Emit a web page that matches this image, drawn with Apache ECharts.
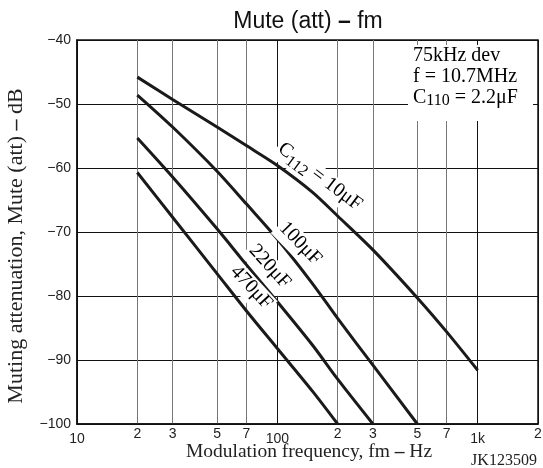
<!DOCTYPE html>
<html><head><meta charset="utf-8">
<script src="https://cdn.jsdelivr.net/npm/echarts@6/dist/echarts.min.js"></script>
<style>html,body{margin:0;padding:0;background:#fff}#c{width:543px;height:468px}</style>
</head><body><div id="c"></div>
<script>
// ---- data ----
const xTicks = [10, 20, 30, 50, 70, 100, 200, 300, 500, 700, 1000, 2000];
const xTickLabels = ['10', '2', '3', '5', '7', '100', '2', '3', '5', '7', '1k', '2'];

const f10 = [20, 30, 50, 70, 100, 150, 200, 300, 500, 700, 1000];
const m10 = [-45.8, -49.3, -53.6, -56.5, -59.6, -63.8, -67.5, -72.8, -80.3, -85.6, -91.6];
const f100 = [20, 30, 50, 70, 100, 150, 200, 300, 500];
const m100 = [-48.6, -53.6, -60.5, -65.6, -71.1, -78.1, -83.5, -90.8, -100];
const f220 = [20, 30, 50, 70, 100, 150, 200, 300];
const m220 = [-55.3, -61.4, -69.5, -75.1, -80.9, -87.7, -93.0, -100];
const f470 = [20, 30, 50, 70, 100, 150, 200];
const m470 = [-60.7, -67.7, -76.5, -82.3, -88.2, -94.9, -100];
const curveNames = ['C112 = 10μF', '100μF', '220μF', '470μF'];

// ---- chart ----
const serif = "'Liberation Serif','Times New Roman',serif";
const sans = "'Liberation Sans',Arial,sans-serif";
const zip = (a, b) => a.map((v, i) => [v, b[i]]);
const curves = [zip(f10, m10), zip(f100, m100), zip(f220, m220), zip(f470, m470)];
const labelMap = {};
xTicks.forEach((t, i) => labelMap[t] = xTickLabels[i]);
const vColors = xTicks.map(t => (t === 100 || t === 1000 || t === 10 || t === 2000) ? '#111' : '#777');

const chart = echarts.init(document.getElementById('c'), null, {renderer: 'canvas'});
chart.setOption({
  animation: false,
  backgroundColor: '#fff',
  grid: {left: 77, right: 5, top: 40, bottom: 44, containLabel: false, outerBoundsMode: 'none',
         show: true, borderColor: '#111', borderWidth: 1.5, backgroundColor: 'transparent'},
  xAxis: {
    type: 'log', logBase: 10, min: 10, max: 2000,
    axisLine: {show: true, lineStyle: {color: '#111', width: 1.5}},
    axisTick: {show: false, customValues: xTicks},
    axisLabel: {
      customValues: xTicks, margin: 3, color: '#222', fontFamily: sans, fontSize: 14,
      formatter: v => {
        const k = Math.round(v);
        const s = labelMap[k] || '';
        return (k === 10 || k === 100 || k === 1000) ? '{d|' + s + '}' : s;
      },
      rich: {d: {fontFamily: sans, fontSize: 14, color: '#222', padding: [5, 0, 0, 0]}}
    },
    splitLine: {show: true, lineStyle: {color: vColors, width: 1}}
  },
  yAxis: {
    type: 'value', min: -100, max: -40, interval: 10,
    axisLine: {show: true, lineStyle: {color: '#111', width: 1.5}},
    axisTick: {show: false},
    axisLabel: {margin: 6, color: '#222', fontFamily: sans, fontSize: 14, formatter: v => (v < 0 ? '−' : '') + Math.abs(v)},
    splitLine: {show: true, lineStyle: {color: '#111', width: 1}}
  },
  series: curves.map((d, i) => ({
    type: 'line', name: curveNames[i], data: d, showSymbol: false, smooth: 0.3,
    lineStyle: {color: '#1a1a1a', width: 3}, z: 3
  }))
});

// annotations placed via data coordinates
const notes = [
  {f: 161, v: -61.6, angle: -37, text: '{n|C}{s|112}{n| = 10μF}'},
  {f: 128, v: -72.0, angle: -46, text: '{n|100μF}'},
  {f: 90, v: -75.6, angle: -48, text: '{n|220μF}'},
  {f: 72.9, v: -78.9, angle: -47, text: '{n|470μF}'}
];
const rich = {
  n: {fontFamily: serif, fontSize: 20, color: '#222', verticalAlign: 'top', lineHeight: 24},
  s: {fontFamily: serif, fontSize: 16, color: '#222', verticalAlign: 'bottom', lineHeight: 24, padding: [9, 0, 0, 0]}
};
const g = notes.map(n => {
  const p = chart.convertToPixel({gridIndex: 0}, [n.f, n.v]);
  return {
    type: 'text', x: p[0], y: p[1], rotation: n.angle * Math.PI / 180, z: 10,
    style: {text: n.text, rich: rich, align: 'center', verticalAlign: 'middle', backgroundColor: '#fff', padding: [0, 2]}
  };
});
g.push({type: 'rect', shape: {x: 408, y: 45, width: 125, height: 76}, style: {fill: '#fff'}, z: 5});
g.push({type: 'text', x: 413, y: 46, z: 10, style: {
  text: '{n|75kHz dev}\n{n|f = 10.7MHz}\n{n|C}{s|110}{n| = 2.2μF}', rich: {
    n: {fontFamily: serif, fontSize: 20, color: '#222', verticalAlign: 'top', lineHeight: 21},
    s: {fontFamily: serif, fontSize: 16, color: '#222', verticalAlign: 'bottom', lineHeight: 21, padding: [9, 0, 0, 0]}
  }
}});
g.push({type: 'text', x: 308, y: 22, z: 10, style: {
  text: 'Mute (att) {b|–} fm', fontFamily: sans, fontSize: 23, fill: '#111', align: 'center', verticalAlign: 'middle',
  rich: {b: {fontFamily: sans, fontSize: 23, fontWeight: 'bold', color: '#111'}}
}});
g.push({type: 'text', x: 309, y: 452, z: 10, style: {
  text: 'Modulation frequency, fm {b|–} Hz', fontFamily: serif, fontSize: 19.5, fill: '#222', align: 'center', verticalAlign: 'middle',
  rich: {b: {fontFamily: serif, fontSize: 19.5, fontWeight: 'bold', color: '#222'}}
}});
g.push({type: 'text', x: 16, y: 246, rotation: Math.PI / 2, z: 10, style: {
  text: 'Muting attenuation, Mute (att) {b|–} dB', fontFamily: serif, fontSize: 22, fill: '#222', align: 'center', verticalAlign: 'middle',
  rich: {b: {fontFamily: serif, fontSize: 22, fontWeight: 'bold', color: '#222'}}
}});
g.push({type: 'text', x: 504, y: 461, z: 10, style: {
  text: 'JK123509', fontFamily: serif, fontSize: 16, fill: '#222', align: 'center', verticalAlign: 'middle'
}});
chart.setOption({graphic: g});
</script></body></html>
